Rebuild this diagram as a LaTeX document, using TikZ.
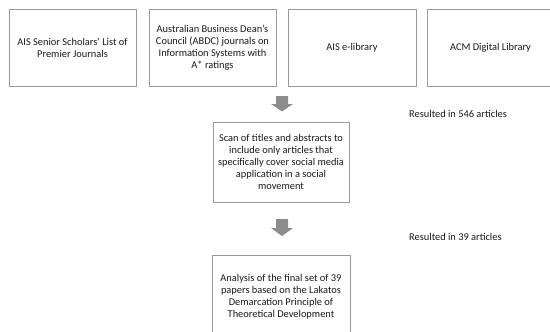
\documentclass[tikz,border=0pt]{standalone}
\usepackage{fontspec}
\setmainfont{Carlito}
\begin{document}
\begin{tikzpicture}[x=1pt,y=-1pt,
  box/.style={draw=black!40, line width=0.7pt, fill=white, inner sep=0pt, text=black!90,
    font=\fontsize{10.4}{11.9}\selectfont, align=center},
  lbl/.style={text=black!90, font=\fontsize{10.4}{11.9}\selectfont, inner sep=0pt, anchor=west},
  blockarrow/.style={fill=black!45, draw=none}]
\useasboundingbox (0,0) rectangle (550,332);
\clip (0,0) rectangle (550,332);
% top row
\node[box, minimum width=127pt, minimum height=77pt] (b1) at (72.5,47.5) {AIS Senior Scholars’ List of\\Premier Journals};
\node[box, minimum width=127pt, minimum height=77pt] (b2) at (212.5,47.5) {Australian Business Dean’s\\Council (ABDC) journals on\\Information Systems with\\A* ratings};
\node[box, minimum width=128pt, minimum height=77pt] (b3) at (352,47.5) {AIS e-library};
\node[box, minimum width=127pt, minimum height=77pt] (b4) at (490.5,47.5) {ACM Digital Library};
% middle
\node[box, minimum width=136pt, minimum height=80pt] (m) at (281,162) {Scan of titles and abstracts to\\include only articles that\\specifically cover social media\\application in a social\\movement};
\node[box, minimum width=138pt, minimum height=84pt] (f) at (281,297) {Analysis of the final set of 39\\papers based on the Lakatos\\Demarcation Principle of\\Theoretical Development};
% block arrows
\coordinate (a1) at (282,96);
\fill[blockarrow] (a1) ++(-6,0) -- ++(12,0) -- ++(0,8) -- ++(5,0) -- ++(-11,7.5) -- ++(-11,-7.5) -- ++(5,0) -- cycle;
\coordinate (a2) at (282,219);
\fill[blockarrow] (a2) ++(-6,0) -- ++(12,0) -- ++(0,9) -- ++(5,0) -- ++(-11,8) -- ++(-11,-8) -- ++(5,0) -- cycle;
% labels
\node[lbl] (r1) at (409,114) {Resulted in 546 articles};
\node[lbl] (r2) at (409,237) {Resulted in 39 articles};
\end{tikzpicture}
\end{document}
